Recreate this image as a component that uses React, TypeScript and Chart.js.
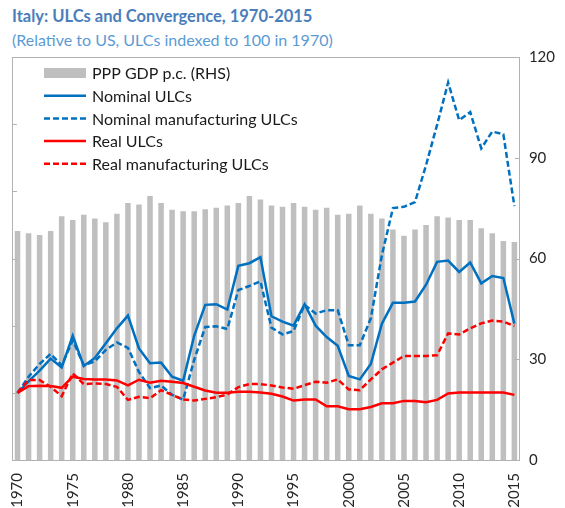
import React, { useEffect, useRef } from "react";
import { Chart, registerables } from "chart.js";

Chart.register(...registerables);

const TITLE = "Italy: ULCs and Convergence, 1970-2015";
const SUBTITLE = "(Relative to US, ULCs indexed to 100 in 1970)";

const years = [
  "1970", "1971", "1972", "1973", "1974", "1975", "1976", "1977", "1978", "1979",
  "1980", "1981", "1982", "1983", "1984", "1985", "1986", "1987", "1988", "1989",
  "1990", "1991", "1992", "1993", "1994", "1995", "1996", "1997", "1998", "1999",
  "2000", "2001", "2002", "2003", "2004", "2005", "2006", "2007", "2008", "2009",
  "2010", "2011", "2012", "2013", "2014", "2015",
];

// PPP GDP per capita relative to US (right-hand scale)
const pppGdp = [
  68.2, 67.5, 67.0, 68.2, 72.6, 71.5, 73.0, 71.9, 70.8, 73.3,
  76.5, 76.1, 78.6, 76.5, 74.5, 74.1, 74.1, 74.7, 75.1, 75.8,
  76.5, 78.6, 77.6, 75.8, 75.4, 76.5, 75.4, 74.5, 75.1, 73.0,
  73.3, 75.8, 73.3, 71.9, 68.6, 66.8, 68.6, 70.0, 72.6, 72.2,
  71.5, 71.5, 69.0, 67.5, 65.2, 64.9,
];

// ULC indices (left-hand scale, 1970 = 100)
const nominalUlc = [
  100, 117, 133, 151, 138, 185, 140, 152, 174, 196,
  215, 166, 144, 145, 124, 118, 185, 231, 232, 224,
  289, 293, 302, 214, 206, 200, 232, 200, 183, 170,
  125, 120, 143, 203, 234, 234, 236, 261, 295, 297,
  280, 294, 263, 274, 271, 203,
];

const nominalMfgUlc = [
  100, 124, 143, 158, 141, 178, 141, 147, 164, 175,
  167, 131, 107, 111, 97, 90, 149, 198, 199, 195,
  253, 259, 266, 197, 187, 192, 231, 218, 223, 223,
  171, 171, 211, 305, 375, 377, 384, 439, 499, 562,
  506, 518, 464, 489, 485, 378,
];

const realUlc = [
  100, 110, 110.5, 110, 107.5, 124, 120.5, 120, 120, 118.5,
  111, 119.5, 115, 118, 116.5, 114.5, 109, 103.5, 100, 100,
  101.5, 101.5, 100.5, 98.5, 94.5, 88.5, 90, 90, 80, 80,
  75.5, 75.5, 79, 84.5, 84.5, 88, 88, 86, 89.5, 99,
  100.5, 100.5, 100.5, 100.5, 100.5, 97,
];

const realMfgUlc = [
  100, 119, 119, 109, 95, 129, 113, 114, 113, 109,
  89.5, 94, 92, 104, 97, 90, 88.5, 91, 93.5, 97.5,
  108.5, 113, 113, 111, 108, 106, 111.5, 116.5, 115, 120,
  105, 104, 120, 135, 145, 155, 155, 155, 156, 188.5,
  187, 196, 203.5, 207.5, 206, 199.5,
];

const rightTicks = [0, 30, 60, 90, 120];
const leftTicks = [0, 100, 200, 300, 400, 500, 600];

const BLUE = "#0070c0";
const RED = "#ff0000";
const BAR = "#bfbfbf";
const FRAME = "#b3b3b3";
const FONT = "Lato, 'Open Sans', sans-serif";

const legendItems = [
  { label: "PPP GDP p.c. (RHS)", type: "bar", color: BAR, dash: [] as number[] },
  { label: "Nominal ULCs", type: "line", color: BLUE, dash: [] as number[] },
  { label: "Nominal manufacturing ULCs", type: "line", color: BLUE, dash: [6, 3] },
  { label: "Real ULCs", type: "line", color: RED, dash: [] as number[] },
  { label: "Real manufacturing ULCs", type: "line", color: RED, dash: [6, 3] },
];

const framePlugin = {
  id: "frameAndLegend",
  afterDraw(chart: any) {
    const { ctx, chartArea: a, scales } = chart;
    ctx.save();
    ctx.strokeStyle = FRAME;
    ctx.lineWidth = 1;
    ctx.beginPath();
    ctx.moveTo(a.left, Math.round(a.top) + 0.5);
    ctx.lineTo(a.right, Math.round(a.top) + 0.5);
    for (const v of leftTicks) {
      const y = Math.round(scales.yL.getPixelForValue(v)) + 0.5;
      ctx.moveTo(a.left, y);
      ctx.lineTo(a.left + 5, y);
    }
    for (const v of rightTicks) {
      const y = Math.round(scales.yR.getPixelForValue(v)) + 0.5;
      ctx.moveTo(a.right - 5, y);
      ctx.lineTo(a.right, y);
    }
    ctx.stroke();

    // legend inside plot area
    const x0 = a.left + 32;
    const sw = 42;
    let y = a.top + 16;
    ctx.font = `16px ${FONT}`;
    ctx.textBaseline = "middle";
    ctx.textAlign = "left";
    for (const it of legendItems) {
      if (it.type === "bar") {
        ctx.fillStyle = it.color;
        ctx.fillRect(x0, y - 5, sw, 10);
      } else {
        ctx.strokeStyle = it.color;
        ctx.lineWidth = 2.5;
        ctx.setLineDash(it.dash);
        ctx.beginPath();
        ctx.moveTo(x0, y);
        ctx.lineTo(x0 + sw, y);
        ctx.stroke();
        ctx.setLineDash([]);
      }
      ctx.fillStyle = "#1a1a1a";
      ctx.fillText(it.label, x0 + sw + 6, y + 1);
      y += 22.7;
    }
    ctx.restore();
  },
};

export default function App() {
  const ref = useRef<HTMLCanvasElement | null>(null);

  useEffect(() => {
    if (!ref.current) return;
    const lineDs = (label: string, data: number[], color: string, dash: number[], order: number) => ({
      type: "line" as const,
      label,
      data,
      yAxisID: "yL",
      borderColor: color,
      backgroundColor: color,
      borderWidth: 2.5,
      borderDash: dash,
      pointRadius: 0,
      tension: 0,
      fill: false,
      order,
    });
    const chart = new Chart(ref.current, {
      type: "bar",
      data: {
        labels: years,
        datasets: [
          {
            type: "bar",
            label: "PPP GDP p.c. (RHS)",
            data: pppGdp,
            yAxisID: "yR",
            backgroundColor: BAR,
            barPercentage: 0.5,
            categoryPercentage: 1,
            order: 10,
          },
          lineDs("Nominal manufacturing ULCs", nominalMfgUlc, BLUE, [6, 3], 4),
          lineDs("Nominal ULCs", nominalUlc, BLUE, [], 3),
          lineDs("Real manufacturing ULCs", realMfgUlc, RED, [6, 3], 2),
          lineDs("Real ULCs", realUlc, RED, [], 1),
        ] as any,
      },
      options: {
        responsive: false,
        animation: false,
        events: [],
        layout: { padding: { left: 12, right: 1, top: 57, bottom: 0 } },
        plugins: {
          legend: { display: false },
          title: { display: false },
          tooltip: { enabled: false },
        },
        scales: {
          x: {
            offset: true,
            grid: { display: false, drawTicks: false },
            border: { display: true, color: FRAME },
            afterFit: (scale: any) => {
              scale.height = 48;
            },
            ticks: {
              autoSkip: false,
              maxRotation: 90,
              minRotation: 90,
              padding: 13,
              color: "#262626",
              font: { family: FONT, size: 15 },
              callback: (_v: any, i: number) => (Number(years[i]) % 5 === 0 ? years[i] : ""),
            },
          },
          yL: {
            position: "left",
            min: 0,
            max: 600,
            grid: { display: false, drawTicks: false },
            border: { display: true, color: FRAME },
            ticks: { display: false, stepSize: 100 },
          },
          yR: {
            position: "right",
            min: 0,
            max: 120,
            grid: { display: false, drawTicks: false },
            border: { display: true, color: FRAME },
            ticks: {
              stepSize: 30,
              padding: 9,
              color: "#262626",
              font: { family: FONT, size: 15 },
            },
          },
        },
      } as any,
      plugins: [framePlugin],
    });
    return () => chart.destroy();
  }, []);

  return (
    <div style={{ position: "absolute", left: 0, top: 0, width: 565, height: 508, background: "#fff" }}>
      <div
        style={{
          position: "absolute",
          left: 12,
          top: 6,
          fontFamily: FONT,
          fontWeight: 700,
          fontSize: 16.5,
          color: "#4a7ebb",
          whiteSpace: "nowrap",
        }}
      >
        {TITLE}
      </div>
      <div
        style={{
          position: "absolute",
          left: 12,
          top: 30,
          fontFamily: FONT,
          fontSize: 16,
          color: "#5b9bd5",
          whiteSpace: "nowrap",
        }}
      >
        {SUBTITLE}
      </div>
      <canvas ref={ref} width={565} height={508} style={{ position: "absolute", left: 0, top: 0 }} />
    </div>
  );
}
